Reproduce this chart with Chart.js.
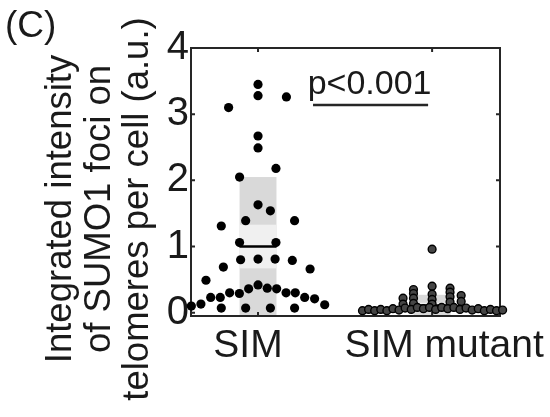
<!DOCTYPE html>
<html><head><meta charset="utf-8">
<script src="https://cdn.jsdelivr.net/npm/chart.js@4.4.1/dist/chart.umd.min.js"></script>
<style>html,body{margin:0;padding:0;background:#fff;overflow:hidden}#wrap{width:550px;height:417px}</style>
</head><body><div id="wrap"><canvas id="c" width="550" height="417"></canvas></div>
<script>
// ---- data ----
const categories = ['SIM', 'SIM mutant'];
const yTicks = [0, 1, 2, 3, 4];

const simValues = [3.45, 3.28, 3.26, 3.10, 2.67, 2.49, 2.18, 2.05, 1.63, 1.54, 1.31, 1.39, 1.39,
  1.06, 1.06, 0.80, 0.81, 0.81, 0.79, 0.69, 0.66, 0.49,
  0.10, 0.13, 0.23, 0.23, 0.30, 0.29, 0.36, 0.42, 0.37, 0.36, 0.30, 0.30, 0.23, 0.21, 0.12,
  0.07, 0.07, 0.07, 0.07];
const simOffsets = [0, 0, 0.163, -0.169, 0, 0, 0.103, -0.106, 0, 0.071, -0.211, -0.071, 0.21,
  -0.106, 0.103, -0.10, 0, 0.098, 0.197, -0.199, 0.299, -0.299,
  -0.383, -0.328, -0.272, -0.217, -0.163, -0.107, -0.054, 0, 0.053, 0.107, 0.161, 0.214, 0.268, 0.325, 0.383,
  -0.211, -0.071, 0.071, 0.21];

const mutantValues = [0.96,
  0.22, 0.13,
  0.35, 0.29, 0.22, 0.14,
  0.40, 0.28, 0.20, 0.13,
  0.37, 0.31, 0.24, 0.16,
  0.26, 0.17,
  0.03, 0.05, 0.03, 0.05, 0.03, 0.06, 0.04, 0.07, 0.05, 0.08, 0.06, 0.08,
  0.05, 0.08, 0.06, 0.08, 0.05, 0.07, 0.04, 0.06, 0.03, 0.05, 0.03, 0.04];
const mutantOffsets = [0,
  -0.167, -0.167,
  -0.107, -0.107, -0.107, -0.107,
  0, 0, 0, 0,
  0.103, 0.103, 0.103, 0.103,
  0.167, 0.167,
  -0.40, -0.365, -0.33, -0.295, -0.26, -0.225, -0.19, -0.155, -0.12, -0.085, -0.05, -0.015,
  0.02, 0.055, 0.09, 0.125, 0.16, 0.195, 0.23, 0.265, 0.30, 0.335, 0.37, 0.405];

const groupMeans = [1.0, 0.11];
const groupSD = [1.05, 0.16];
const groupCI = [0.33, 0.04];

const panelLabel = '(C)';
const yTitleLines = ['Integrated intensity', 'of SUMO1 foci on', 'telomeres per cell (a.u.)'];
const pLabel = 'p<0.001';
const pBarX = [1.316, 1.977];
const pBarY = 3.14;
const pTextY = 3.30;

// ---- drawing ----
const FONT = '"Liberation Sans", Arial, Helvetica, sans-serif';
const TXT = '#1a1a1a';
const BOX_HALF = 0.106;
const LABEL_SHIFT = [-10, 12];   // px shift of category labels, as in the reference

const simPts = simValues.map((v, i) => ({ x: 1 + simOffsets[i], y: v }));
const mutPts = mutantValues.map((v, i) => ({ x: 2 + mutantOffsets[i], y: v }));

const annot = {
  id: 'annot',
  beforeDatasetsDraw(chart) {
    const { ctx, chartArea: a, scales: { x, y } } = chart;
    ctx.save();
    const cl = v => Math.max(y.min, Math.min(y.max, v));
    groupMeans.forEach((m, i) => {
      const c = i + 1;
      const x0 = x.getPixelForValue(c - BOX_HALF), x1 = x.getPixelForValue(c + BOX_HALF);
      const sdT = y.getPixelForValue(cl(m + groupSD[i])), sdB = y.getPixelForValue(cl(m - groupSD[i]));
      ctx.fillStyle = '#d9d9d9';
      ctx.fillRect(x0, sdT, x1 - x0, sdB - sdT);
      const ciT = y.getPixelForValue(m + groupCI[i]), ciB = y.getPixelForValue(m - groupCI[i]);
      ctx.fillStyle = '#f0f0f0';
      ctx.fillRect(x0, ciT, x1 - x0, ciB - ciT);
      ctx.strokeStyle = '#000';
      ctx.lineWidth = 2.5;
      ctx.beginPath();
      const my = y.getPixelForValue(m);
      ctx.moveTo(x0, my); ctx.lineTo(x1, my); ctx.stroke();
    });
    // axes box with inward ticks
    ctx.strokeStyle = '#262626';
    ctx.lineWidth = 2;
    ctx.strokeRect(a.left, a.top, a.right - a.left, a.bottom - a.top);
    ctx.beginPath();
    yTicks.forEach(t => {
      const py = y.getPixelForValue(t);
      ctx.moveTo(a.left, py); ctx.lineTo(a.left + 4, py);
      ctx.moveTo(a.right, py); ctx.lineTo(a.right - 4, py);
    });
    categories.forEach((c, i) => {
      const px = x.getPixelForValue(i + 1);
      ctx.moveTo(px, a.bottom); ctx.lineTo(px, a.bottom - 4);
      ctx.moveTo(px, a.top); ctx.lineTo(px, a.top + 4);
    });
    ctx.stroke();
    ctx.restore();
  },
  afterDraw(chart) {
    const { ctx, chartArea: a, scales: { x, y } } = chart;
    ctx.save();
    ctx.fillStyle = TXT;
    ctx.textAlign = 'left';
    ctx.textBaseline = 'alphabetic';
    ctx.font = '37px ' + FONT;
    ctx.fillText(panelLabel, 5, 37);
    // category labels
    ctx.textAlign = 'center';
    ctx.font = '39px ' + FONT;
    categories.forEach((c, i) => {
      ctx.fillText(c, x.getPixelForValue(i + 1) + LABEL_SHIFT[i], a.bottom + 41);
    });
    // y title
    const baseX = [71, 110, 148];
    yTitleLines.forEach((t, i) => {
      ctx.save();
      ctx.translate(baseX[i], 209);
      ctx.rotate(-Math.PI / 2);
      ctx.textAlign = 'center';
      ctx.font = '36.5px ' + FONT;
      ctx.fillText(t, 0, 0);
      ctx.restore();
    });
    // p value
    const bx0 = x.getPixelForValue(pBarX[0]), bx1 = x.getPixelForValue(pBarX[1]);
    ctx.textAlign = 'center';
    ctx.font = '34px ' + FONT;
    ctx.fillText(pLabel, (bx0 + bx1) / 2 - 1, y.getPixelForValue(pTextY));
    ctx.strokeStyle = '#262626';
    ctx.lineWidth = 2.5;
    ctx.beginPath();
    const by = y.getPixelForValue(pBarY);
    ctx.moveTo(bx0, by); ctx.lineTo(bx1, by); ctx.stroke();
    ctx.restore();
  }
};

new Chart(document.getElementById('c'), {
  type: 'scatter',
  data: {
    datasets: [
      { label: categories[0], data: simPts, backgroundColor: '#000', borderColor: '#000',
        borderWidth: 0, pointRadius: 4.6, clip: false },
      { label: categories[1], data: mutPts, backgroundColor: '#454545', borderColor: '#000',
        borderWidth: 1.4, pointRadius: 3.9, clip: false }
    ]
  },
  options: {
    responsive: false,
    devicePixelRatio: 1,
    animation: false,
    events: [],
    layout: { padding: { left: 0, right: 50, top: 48, bottom: 0 } },
    plugins: { legend: { display: false }, tooltip: { enabled: false } },
    scales: {
      x: {
        type: 'linear', min: 0.615, max: 2.39,
        grid: { display: false, drawTicks: false }, border: { display: false },
        afterBuildTicks: s => { s.ticks = categories.map((c, i) => ({ value: i + 1 })); },
        afterFit: s => { s.height = 101; },
        ticks: { display: false }
      },
      y: {
        min: -0.05, max: 4,
        grid: { display: false, drawTicks: false }, border: { display: false },
        afterBuildTicks: s => { s.ticks = yTicks.map(v => ({ value: v })); },
        afterFit: s => { s.width = 191; },
        ticks: { padding: 2, color: TXT, font: { size: 40, family: FONT } }
      }
    }
  },
  plugins: [annot]
});
</script>
</body></html>
